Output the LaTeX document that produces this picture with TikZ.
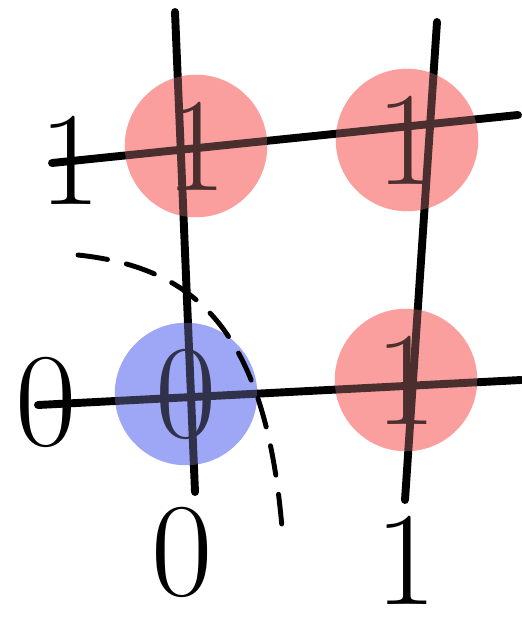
\documentclass[tikz,border=0pt]{standalone}
\usetikzlibrary{calc}
\definecolor{hotred}{RGB}{250,158,158}
\definecolor{coolblue}{RGB}{158,166,246}

\begin{document}
\begin{tikzpicture}[
    x=0.02cm, y=-0.02cm,
    pen/.style={line width=4.5pt, line cap=round},
    dot/.style={circle, inner sep=0pt, minimum size=2.85cm},
    ondot/.style={dot, fill=hotred},
    offdot/.style={dot, fill=coolblue},
    digit/.style={font=\fontsize{76}{76}\selectfont, inner sep=0pt},
    tint/.style={fill opacity=0.3},
    sep/.style={line width=2.8pt, line cap=round, dash pattern=on 17pt off 11pt}
]
\useasboundingbox (0,0) rectangle (521,618);

% Cells of the table: the circle carries the output value
\node[offdot, digit] (c00) at (186,394) {0};
\node[ondot, digit] (c10) at (406,380) {1};
\node[ondot, digit] (c01) at (196,146) {1};
\node[ondot, digit] (c11) at (407,140) {1};

% Input values on the axes
\node[digit] (yl1) at (70,160) {1};
\node[digit] (yl0) at (46,402) {0};
\node[digit] (xl0) at (182,552) {0};
\node[digit] (xl1) at (406,560) {1};

% Sketched grid
\coordinate (v0top) at (175,12);
\coordinate (v0bot) at (195,492);
\coordinate (v1top) at (437,22);
\coordinate (v1bot) at (405,500);
\coordinate (h1left) at (52,163);
\coordinate (h1right) at (518,115);
\coordinate (h0left) at (38,405);
\coordinate (h0right) at (521,380);
\draw[pen] (v0top) -- (v0bot);
\draw[pen] (v1top) -- (v1bot);
\draw[pen] (h1left) -- (h1right);
\draw[pen] (h0left) -- (h0right);

% Tint the strokes that run over the circles
\foreach \c in {c10,c01,c11}
  \fill[hotred, tint] (\c.center) circle[radius=1.425cm];
\fill[coolblue, tint] (c00.center) circle[radius=1.425cm];

% Decision boundary
\coordinate (sepstart) at (78,255);
\coordinate (sepend) at (283,540);
\draw[sep] (sepstart) .. controls (200,268) and (268,335) .. (sepend);
\end{tikzpicture}
\end{document}
